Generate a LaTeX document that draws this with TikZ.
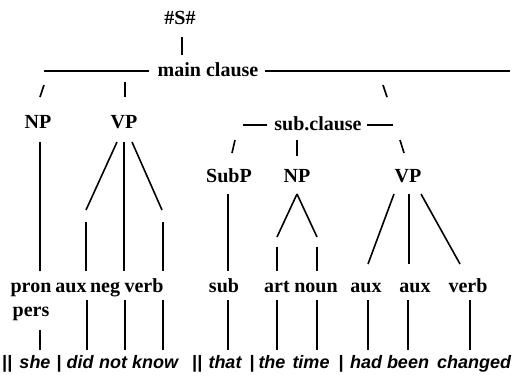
\documentclass[tikz,border=0pt]{standalone}
\usepackage{fontspec}
\setmainfont{Liberation Serif}
\newfontfamily\wordfont{Liberation Sans}
\tikzset{
  lbl/.style={font=\fontsize{20bp}{22bp}\selectfont\bfseries, inner sep=0pt, anchor=base},
  wrd/.style={font=\wordfont\fontsize{18bp}{22bp}\selectfont\bfseries\itshape, inner sep=0pt, anchor=base},
  branch/.style={line width=1.6bp}
}
\begin{document}
\begin{tikzpicture}[x=1bp, y=-1bp]
            \useasboundingbox (0,0) rectangle (513,381);
            \node [lbl] (S) at (180,24) {\#S\#};
            \node [lbl] (main) at (208,76) {main clause};
            \node [lbl] (npa) at (38,128) {NP};
            \node [lbl] (vpa) at (124,128) {VP};
            \node [lbl] (subcl) at (318,130) {sub.clause};
            \node [lbl] (subp) at (229,182) {SubP};
            \node [lbl] (npb) at (297,182) {NP};
            \node [lbl] (vpb) at (408,182) {VP};
            \node [lbl] (pron) at (31,292) {pron};
            \node [lbl] (pers) at (31,316) {pers};
            \node [lbl] (auxa) at (71,292) {aux};
            \node [lbl] (neg) at (105,292) {neg};
            \node [lbl] (verba) at (144,292) {verb};
            \node [lbl] (sub) at (224,292) {sub};
            \node [lbl] (art) at (277,292) {art};
            \node [lbl] (noun) at (316,292) {noun};
            \node [lbl] (auxb) at (366,292) {aux};
            \node [lbl] (auxc) at (415,292) {aux};
            \node [lbl] (verbb) at (468,292) {verb};
            \node [wrd] (sepa) at (7,368) {||};
            \node [wrd] (she) at (35,368) {she};
            \node [wrd] (sepb) at (59,368) {|};
            \node [wrd] (did) at (80,368) {did};
            \node [wrd] (not) at (113,368) {not};
            \node [wrd] (know) at (155,368) {know};
            \node [wrd] (sepc) at (197,368) {||};
            \node [wrd] (that) at (225,368) {that};
            \node [wrd] (sepd) at (252,368) {|};
            \node [wrd] (the) at (272,368) {the};
            \node [wrd] (time) at (311,368) {time};
            \node [wrd] (sepe) at (341,368) {|};
            \node [wrd] (had) at (366,368) {had};
            \node [wrd] (been) at (408,368) {been};
            \node [wrd] (changed) at (474,368) {changed};
            \draw [branch] (S.base) ++(2,13) -- ++(0,18);
            \draw [branch] (main.base west) ++(-9,-5) -- ++(-105,0);
            \draw [branch] (main.base east) ++(7,-5) -- ++(245,0);
            \draw [branch] (npa.base) ++(6,-43) -- ++(-4,12);
            \draw [branch] (vpa.base) ++(1,-46) -- ++(0,15);
            \draw [branch] (subcl.base) ++(65,-45) -- ++(4,12);
            \draw [branch] (npa.base) ++(2,14) -- ++(0,129);
            \draw [branch] (vpa.base) ++(-7,14) -- ++(-31,68);
            \draw [branch] (vpa.base) ++(0,14) -- ++(0,129);
            \draw [branch] (vpa.base) ++(8,14) -- ++(30,68);
            \draw [branch] (auxa.base) ++(15,-70) -- ++(0,49);
            \draw [branch] (verba.base) ++(19,-70) -- ++(0,49);
            \draw [branch] (subcl.base west) ++(-7,-5) -- ++(-24,0);
            \draw [branch] (subcl.base east) ++(5,-5) -- ++(26,0);
            \draw [branch] (subp.base) ++(6,-42) -- ++(-3,13);
            \draw [branch] (npb.base) ++(0,-42) -- ++(0,16);
            \draw [branch] (vpb.base) ++(-8,-42) -- ++(4,13);
            \draw [branch] (subp.base) ++(-1,12) -- ++(0,77);
            \draw [branch] (npb.base) ++(0,12) -- ++(-20,43);
            \draw [branch] (npb.base) ++(0,12) -- ++(20,43);
            \draw [branch] (art.base) ++(0,-45) -- ++(0,24);
            \draw [branch] (noun.base) ++(1,-45) -- ++(0,24);
            \draw [branch] (vpb.base) ++(-14,12) -- ++(-26,70);
            \draw [branch] (vpb.base) ++(1,12) -- ++(0,70);
            \draw [branch] (vpb.base) ++(13,12) -- ++(39,70);
            \draw [branch] (pers.base) ++(9,14) -- ++(0,20);
            \draw [branch] (auxa.base) ++(16,8) -- ++(0,50);
            \draw [branch] (neg.base) ++(20,8) -- ++(0,50);
            \draw [branch] (verba.base) ++(19,8) -- ++(0,50);
            \draw [branch] (sub.base) ++(4,8) -- ++(0,50);
            \draw [branch] (art.base) ++(0,8) -- ++(0,50);
            \draw [branch] (noun.base) ++(1,8) -- ++(0,50);
            \draw [branch] (auxb.base) ++(2,8) -- ++(0,50);
            \draw [branch] (auxc.base) ++(-7,8) -- ++(0,50);
            \draw [branch] (verbb.base) ++(2,8) -- ++(0,50);
        \end{tikzpicture}
\end{document}
